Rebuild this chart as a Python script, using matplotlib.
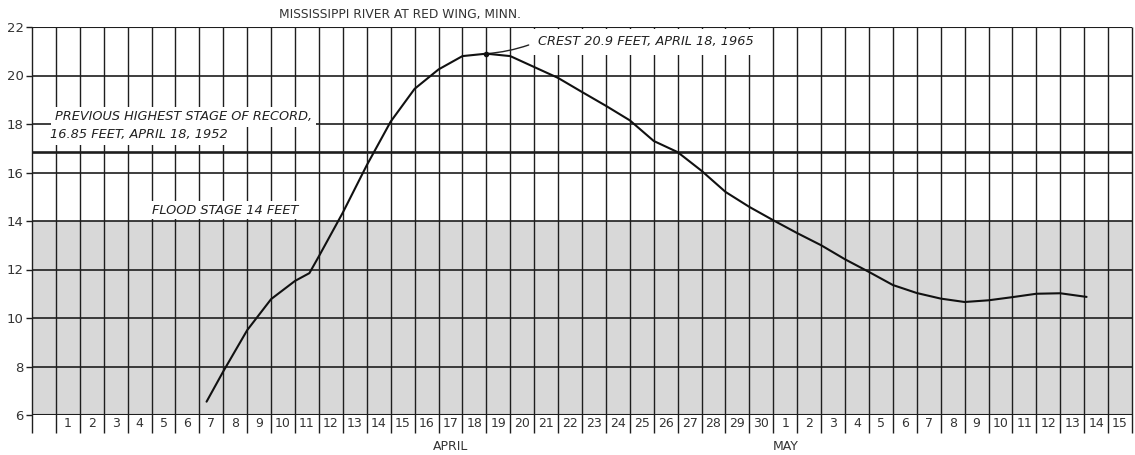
import matplotlib
matplotlib.use("Agg")
import matplotlib.pyplot as plt

# Stage readings: x is days counted from the start of April 1 (April d -> d, May d -> 30 + d)
days = [7.3, 8, 9, 10, 11, 11.6, 12, 13, 14, 15, 16, 17, 18, 19, 20, 21, 22, 23, 24, 25,
        26, 27, 28, 29, 30, 31, 32, 33, 34, 35, 36, 37, 38, 39, 40, 41, 42, 43, 44.1]
stage_ft = [6.55, 7.8, 9.5, 10.78, 11.53, 11.85, 12.55, 14.35, 16.3, 18.1, 19.45, 20.25,
            20.8, 20.9, 20.8, 20.35, 19.9, 19.32, 18.75, 18.15, 17.3, 16.84, 16.07, 15.2,
            14.58, 14.03, 13.5, 13.0, 12.42, 11.9, 11.36, 11.03, 10.8, 10.66, 10.73, 10.86,
            11.0, 11.02, 10.87]

crest_day = 19
crest_ft = 20.9
record_ft = 16.85
flood_ft = 14

april_days = [str(d) for d in range(1, 31)]
may_days = [str(d) for d in range(1, 16)]
day_labels = [""] + april_days + may_days
y_ticks = [6, 8, 10, 12, 14, 16, 18, 20, 22]

ink = "#1e1e1e"
n_cols = len(day_labels)

fig = plt.figure(figsize=(11.35, 4.55), dpi=100)
ax = fig.add_axes([32 / 1135, 40 / 455, 1100 / 1135, 388 / 455])
ax.set_xlim(0, n_cols)
ax.set_ylim(6, 22)
for s in ax.spines.values():
    s.set_visible(False)

# flood zone shading
ax.axhspan(6, flood_ft, facecolor="#d8d8d8", edgecolor="none", zorder=0)

# chart paper grid; vertical rules run down through the date row
row_bottom = 5.26
ax.vlines(range(n_cols + 1), row_bottom, 22, colors=ink, lw=1.0, zorder=1, clip_on=False)
ax.hlines(y_ticks, 0, n_cols, colors=ink, lw=1.2, zorder=1)
ax.hlines(22, 0, n_cols, colors=ink, lw=1.5, zorder=5)
ax.hlines(6, 0, n_cols, colors=ink, lw=1.5, zorder=5)
ax.hlines(record_ft, 0, n_cols, colors=ink, lw=1.9, zorder=2)

ax.set_yticks(y_ticks)
ax.set_yticklabels([str(v) for v in y_ticks], fontsize=9.5, color="#333333")
ax.tick_params(axis="y", length=4, width=1, color=ink, pad=2)
ax.set_xticks([])

# day numbers in the bottom row
for i, lab in enumerate(day_labels):
    ax.text(i + 0.5, 5.63, lab, ha="center", va="center", fontsize=9, color="#333333",
            clip_on=False)
ax.text(17.5, 4.72, "APRIL", ha="center", va="center", fontsize=9, color="#333333",
        clip_on=False)
ax.text(31.5, 4.72, "MAY", ha="center", va="center", fontsize=9, color="#333333",
        clip_on=False)

ax.text(15.4, 22.5, "MISSISSIPPI RIVER AT RED WING, MINN.", ha="center", va="center",
        fontsize=8.8, color="#333333", clip_on=False)

# hydrograph
ax.plot(days, stage_ft, color="#111111", lw=1.5, zorder=6, solid_capstyle="round")
ax.plot([crest_day], [crest_ft], "o", color="#111111", ms=3, zorder=7)

note = dict(fontsize=9.3, style="italic", color="#222222", zorder=4)
white = dict(facecolor="white", edgecolor="none", boxstyle="square,pad=0.3")

ax.annotate("CREST 20.9 FEET, APRIL 18, 1965", xy=(crest_day, crest_ft),
            xytext=(21.15, 21.4), va="center", ha="left",
            bbox=dict(facecolor="white", edgecolor="none", boxstyle="square,pad=0.5"),
            arrowprops=dict(arrowstyle="-", color="#222222", lw=1.0, relpos=(0, 0.5),
                            connectionstyle="arc3,rad=-0.08", shrinkA=2, shrinkB=0),
            **note)

ax.text(0.96, 18.29, "PREVIOUS HIGHEST STAGE OF RECORD,", ha="left", va="center",
        bbox=white, **note)
ax.text(0.75, 17.55, "16.85 FEET, APRIL 18, 1952", ha="left", va="center",
        bbox=white, **note)

ax.text(5.0, 14.45, "FLOOD STAGE 14 FEET", ha="left", va="center",
        bbox=dict(facecolor="white", edgecolor="none", boxstyle="square,pad=0.2"), **note)

fig.savefig("out.png", dpi=100, facecolor="white")
